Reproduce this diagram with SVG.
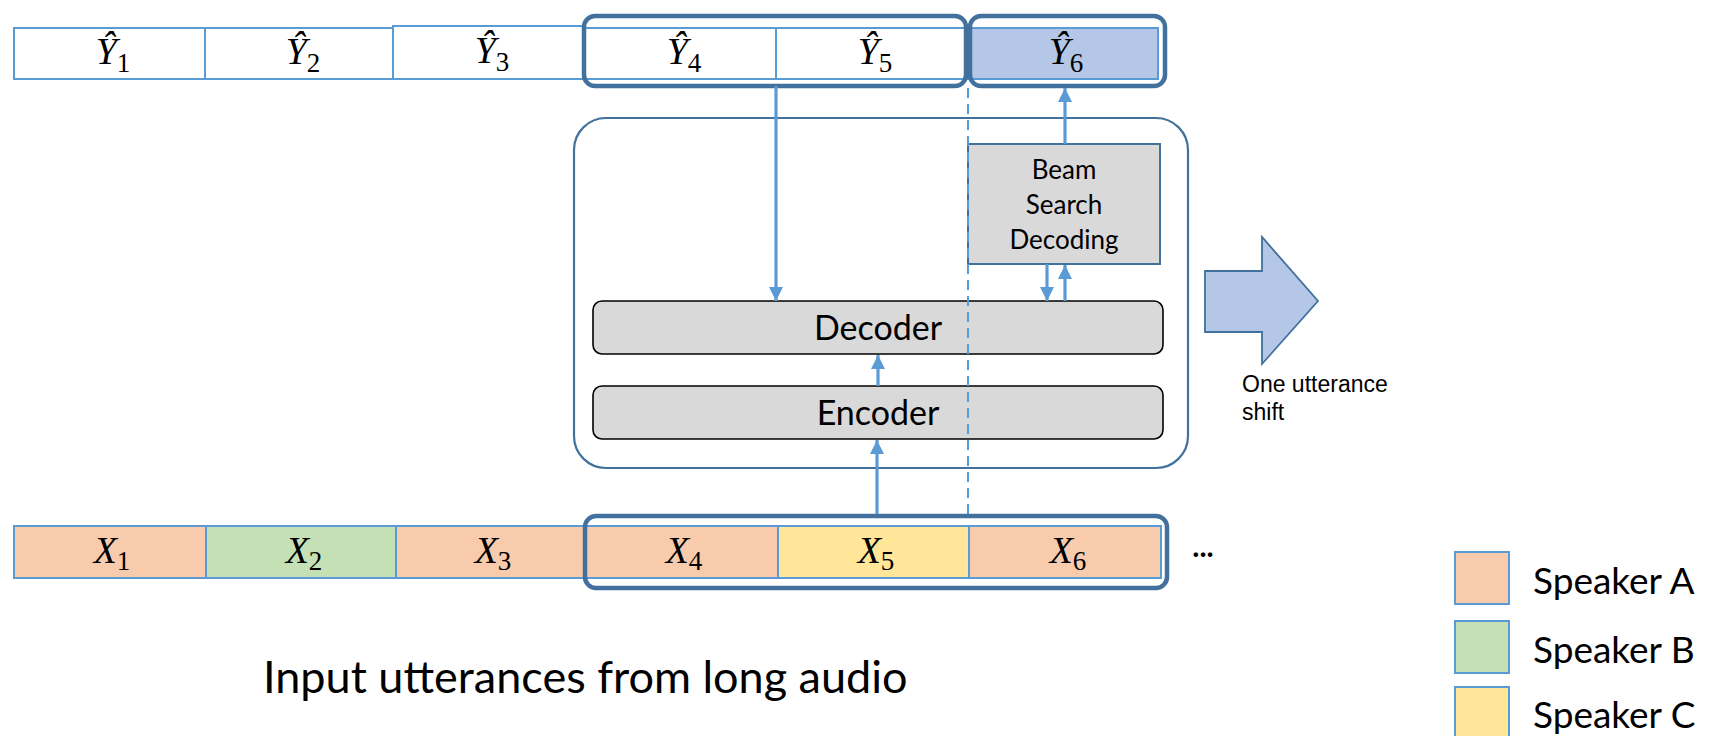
<svg xmlns="http://www.w3.org/2000/svg" width="1709" height="736" viewBox="0 0 1709 736">
<style>
.cell{stroke:#5B9BD5;stroke-width:2}
.win{fill:none;stroke:#41719C;stroke-width:4.5}
.math{font-family:"Liberation Serif",serif;font-size:38px;fill:#000}
.mi{font-style:italic}
.sub{font-size:27px}
.cal{font-family:Lato,"Open Sans",sans-serif;fill:#000}
.blk{fill:#D9D9D9;stroke:#000;stroke-width:1.6}
.arr{stroke:#5B9BD5;stroke-width:3.2;fill:none;marker-end:url(#ah)}
</style>
<defs>
<marker id="ah" markerUnits="userSpaceOnUse" markerWidth="14" markerHeight="14" refX="14" refY="7" orient="auto">
<path d="M0,0 L14,7 L0,14 z" fill="#5B9BD5"/>
</marker>
</defs>
<rect width="1709" height="736" fill="#fff"/>

<g id="model">
<rect x="574" y="118" width="614" height="350" rx="32" fill="none" stroke="#41719C" stroke-width="2.2"/>
</g>
<g id="decoder">
<rect class="blk" x="593" y="301" width="570" height="53" rx="9"/>
<text class="cal" x="878" y="340" font-size="34" text-anchor="middle">Decoder</text>
</g>
<g id="encoder">
<rect class="blk" x="593" y="386" width="570" height="53" rx="9"/>
<text class="cal" x="878" y="425" font-size="34" text-anchor="middle">Encoder</text>
</g>
<g id="beam">
<rect x="968" y="144" width="192" height="120" fill="#D9D9D9" stroke="#41719C" stroke-width="2"/>
<text class="cal" x="1064" y="179" font-size="26" text-anchor="middle">Beam</text>
<text class="cal" x="1064" y="214" font-size="26" text-anchor="middle">Search</text>
<text class="cal" x="1064" y="249" font-size="26" text-anchor="middle">Decoding</text>
</g>

<g id="outputs">
<g id="y1"><rect class="cell" x="14" y="28" width="191" height="51" fill="#fff"/><text class="math" x="113" y="64" text-anchor="middle"><tspan class="mi">Ŷ</tspan><tspan class="sub" dy="8">1</tspan></text></g>
<g id="y2"><rect class="cell" x="205" y="28" width="188" height="51" fill="#fff"/><text class="math" x="303" y="64" text-anchor="middle"><tspan class="mi">Ŷ</tspan><tspan class="sub" dy="8">2</tspan></text></g>
<g id="y3"><rect class="cell" x="393" y="26" width="191" height="53" fill="#fff"/><text class="math" x="492" y="63" text-anchor="middle"><tspan class="mi">Ŷ</tspan><tspan class="sub" dy="8">3</tspan></text></g>
<g id="y4"><rect class="cell" x="584" y="28" width="192" height="51" fill="#fff"/><text class="math" x="684" y="64" text-anchor="middle"><tspan class="mi">Ŷ</tspan><tspan class="sub" dy="8">4</tspan></text></g>
<g id="y5"><rect class="cell" x="776" y="28" width="191" height="51" fill="#fff"/><text class="math" x="875" y="64" text-anchor="middle"><tspan class="mi">Ŷ</tspan><tspan class="sub" dy="8">5</tspan></text></g>
<g id="y6"><rect class="cell" x="967" y="28" width="191" height="51" fill="#B4C7E7"/><text class="math" x="1066" y="64" text-anchor="middle"><tspan class="mi">Ŷ</tspan><tspan class="sub" dy="8">6</tspan></text></g>
<rect id="ywin45" class="win" x="584" y="16" width="382" height="70" rx="11"/>
<rect id="ywin6" class="win" x="970" y="16" width="195" height="70" rx="11"/>
</g>

<g id="inputs">
<g id="x1"><rect class="cell" x="14" y="526" width="192" height="52" fill="#F8CBAD"/><text class="math" x="112" y="563" text-anchor="middle"><tspan class="mi">X</tspan><tspan class="sub" dy="7">1</tspan></text></g>
<g id="x2"><rect class="cell" x="206" y="526" width="190" height="52" fill="#C5E0B4"/><text class="math" x="304" y="563" text-anchor="middle"><tspan class="mi">X</tspan><tspan class="sub" dy="7">2</tspan></text></g>
<g id="x3"><rect class="cell" x="396" y="526" width="188" height="52" fill="#F8CBAD"/><text class="math" x="493" y="563" text-anchor="middle"><tspan class="mi">X</tspan><tspan class="sub" dy="7">3</tspan></text></g>
<g id="x4"><rect class="cell" x="584" y="526" width="194" height="52" fill="#F8CBAD"/><text class="math" x="684" y="563" text-anchor="middle"><tspan class="mi">X</tspan><tspan class="sub" dy="7">4</tspan></text></g>
<g id="x5"><rect class="cell" x="778" y="526" width="191" height="52" fill="#FFE699"/><text class="math" x="876" y="563" text-anchor="middle"><tspan class="mi">X</tspan><tspan class="sub" dy="7">5</tspan></text></g>
<g id="x6"><rect class="cell" x="969" y="526" width="192" height="52" fill="#F8CBAD"/><text class="math" x="1068" y="563" text-anchor="middle"><tspan class="mi">X</tspan><tspan class="sub" dy="7">6</tspan></text></g>
<rect id="xwin" class="win" x="585" y="516" width="582" height="72" rx="11"/>
<text id="ellipsis" class="cal" x="1203" y="557" font-size="30" font-weight="bold" text-anchor="middle">...</text>
</g>

<g id="connectors">
<line class="arr" x1="776" y1="86" x2="776" y2="301"/>
<line class="arr" x1="878" y1="386" x2="878" y2="355"/>
<line class="arr" x1="877" y1="514" x2="877" y2="440"/>
<line class="arr" x1="1065" y1="144" x2="1065" y2="88"/>
<line class="arr" x1="1047" y1="264" x2="1047" y2="301"/>
<line class="arr" x1="1065" y1="301" x2="1065" y2="265"/>
<line x1="968" y1="88" x2="968" y2="514" stroke="#5B9BD5" stroke-width="2" stroke-dasharray="10,6"/>
</g>

<g id="shift">
<polygon points="1205,271 1262,271 1262,237 1318,301 1262,364 1262,332 1205,332" fill="#B4C7E7" stroke="#41719C" stroke-width="1.8"/>
<text x="1242" y="392" font-family="Liberation Sans,Arial,sans-serif" font-size="23" fill="#000">One utterance</text>
<text x="1242" y="420" font-family="Liberation Sans,Arial,sans-serif" font-size="23" fill="#000">shift</text>
</g>

<text id="caption" class="cal" x="263" y="693" font-size="45">Input utterances from long audio</text>

<g id="legend">
<g id="legA"><rect class="cell" x="1455" y="552" width="54" height="52" fill="#F8CBAD"/><text class="cal" x="1533" y="594" font-size="37">Speaker A</text></g>
<g id="legB"><rect class="cell" x="1455" y="621" width="54" height="52" fill="#C5E0B4"/><text class="cal" x="1533" y="663" font-size="37">Speaker B</text></g>
<g id="legC"><rect class="cell" x="1455" y="687" width="54" height="54" fill="#FFE699"/><text class="cal" x="1533" y="728" font-size="37">Speaker C</text></g>
</g>
</svg>
